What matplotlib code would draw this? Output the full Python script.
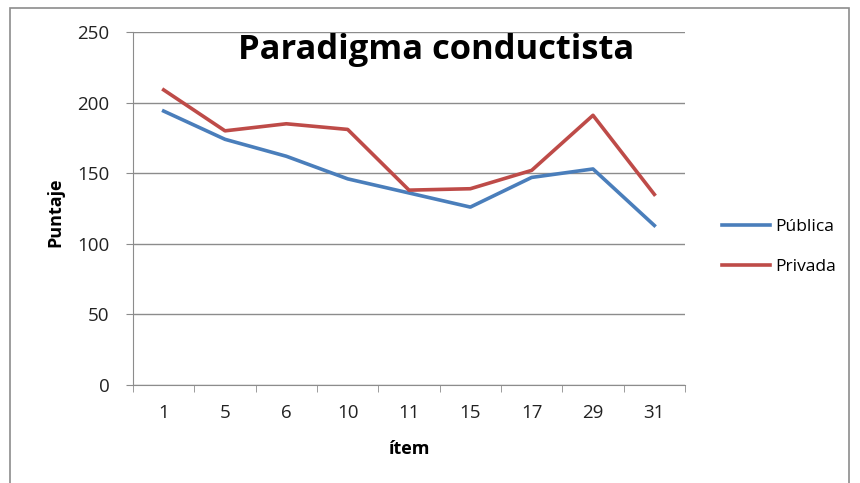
import matplotlib
matplotlib.use("Agg")
from matplotlib import pyplot as plt
from matplotlib.patches import Rectangle

# data
items = ["1", "5", "6", "10", "11", "15", "17", "29", "31"]
publica = [194, 174, 162, 146, 136, 126, 147, 153, 113]
privada = [209, 180, 185, 181, 138, 139, 152, 191, 135]

plt.rcParams['font.family'] = ['Open Sans', 'DejaVu Sans']

W, H = 860, 483
fig = plt.figure(figsize=(W / 100, H / 100), dpi=100)
ax = fig.add_axes([133 / W, 1 - 385 / H, (685 - 133) / W, (385 - 32) / H])

# outer chart border
fig.patches.append(Rectangle((10 / W, -0.05), (849 - 10) / W, 1.05 - 8 / H,
                             transform=fig.transFigure, fill=False,
                             edgecolor="#8c8c8c", linewidth=1.2))

x = range(len(items))
ax.plot(x, publica, color="#4A7EBB", linewidth=2.6, label="Pública")
ax.plot(x, privada, color="#BE4B48", linewidth=2.6, label="Privada")

ax.set_xlim(-0.5, len(items) - 0.5)
ax.set_ylim(0, 250)
ax.set_yticks(range(0, 251, 50))
ax.yaxis.grid(True, color="#8c8c8c", linewidth=1)
ax.set_axisbelow(True)

ax.set_xticks(list(x))
ax.set_xticklabels(items)
ax.set_xticks([i - 0.5 for i in range(len(items) + 1)], minor=True)
ax.tick_params(axis="x", which="major", length=0, pad=14, labelsize=13.5)
ax.tick_params(axis="x", which="minor", length=5, color="#8c8c8c", direction="out")
ax.tick_params(axis="y", length=5, color="#8c8c8c", direction="out", pad=12, labelsize=13.5)
for t in ax.get_xticklabels() + ax.get_yticklabels():
    t.set_color("#222222")

for s in ("top", "right"):
    ax.spines[s].set_visible(False)
for s in ("left", "bottom"):
    ax.spines[s].set_color("#8c8c8c")

fig.text(410 / W, 1 - 449 / H, "ítem", fontsize=13, fontweight="bold",
         ha="center", va="center")
fig.text(55 / W, 1 - 212 / H, "Puntaje", fontsize=13, fontweight="bold",
         ha="center", va="center", rotation=90)
fig.text(436 / W, 1 - 59 / H, "Paradigma conductista", fontsize=24.8,
         fontweight="bold", ha="center", va="baseline")

fig.legend(loc="center left", bbox_to_anchor=(722 / W, 1 - 247 / H),
           frameon=False, fontsize=12.5, handlelength=2.75,
           handletextpad=0.3, labelspacing=1.35,
           borderaxespad=0, borderpad=0)

fig.savefig("out.png", dpi=100)
